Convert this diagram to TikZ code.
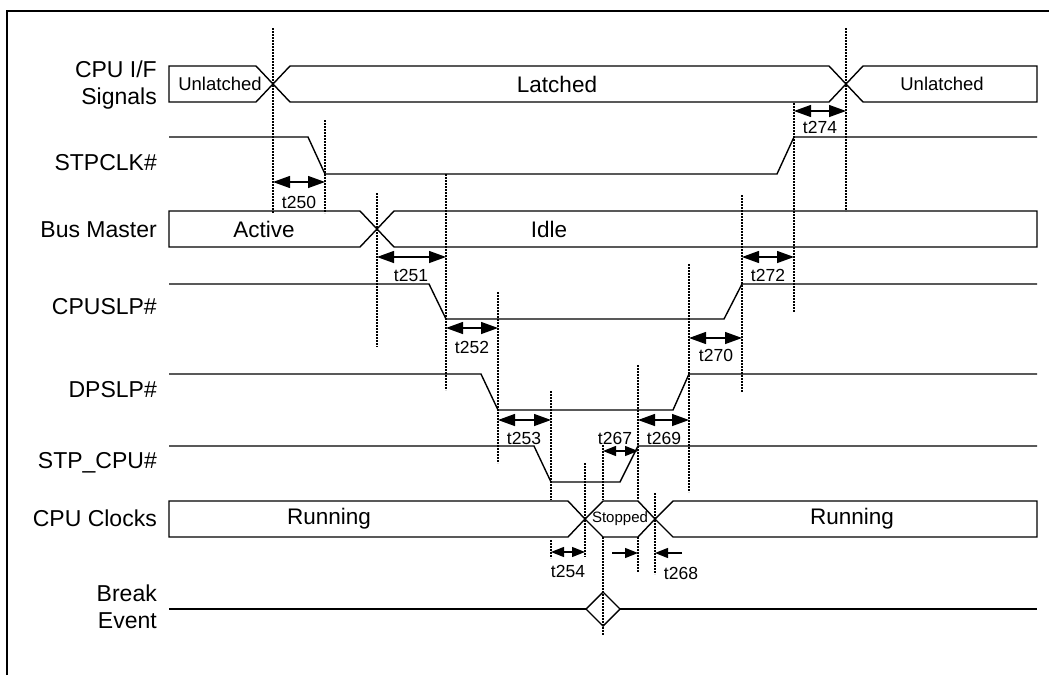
\documentclass[tikz,border=0pt]{standalone}
\usepackage{fontspec}
\setmainfont{Liberation Sans}
\usetikzlibrary{arrows.meta}

\begin{document}
\begin{tikzpicture}[x=1pt, y=-1pt,
    sig/.style={line width=1.4pt, line join=miter},
    guide/.style={line width=2pt, dash pattern=on 2pt off 1pt},
    tdim/.style={line width=1.3pt, {Triangle[length=17pt,width=12pt]}-{Triangle[length=17pt,width=12pt]}},
    tsmall/.style={line width=1.3pt, {Triangle[length=13pt,width=10pt]}-{Triangle[length=13pt,width=10pt]}},
    tone/.style={line width=1.3pt, -{Triangle[length=13pt,width=10pt]}},
    signame/.style={font=\fontsize{23}{27}\selectfont, anchor=east, align=right, inner sep=0pt},
    state/.style={font=\fontsize{22.5}{26}\selectfont, inner sep=0pt},
    tlab/.style={font=\fontsize{17.5}{20}\selectfont, inner sep=0pt}]
  \useasboundingbox (0,0) rectangle (1049,675);
  \draw[line width=2.8pt] (7,675) -- (7,11) -- (1049,11);

  % signal names
  \node[signame] (nIF)  at (157,85)  {CPU I/F\\Signals};
  \node[signame] (nSTP) at (157,163) {STPCLK\#};
  \node[signame] (nBM)  at (157,230) {Bus Master};
  \node[signame] (nCS)  at (157,307) {CPUSLP\#};
  \node[signame] (nDS)  at (157,390) {DPSLP\#};
  \node[signame] (nSC)  at (157,463) {STP\_CPU\#};
  \node[signame] (nCK)  at (157,518) {CPU Clocks};
  \node[signame] (nBE)  at (157,607) {Break\\Event};

  % CPU I/F signals
  \draw[sig] (169,66) -- (256,66) -- (273,84) -- (256,102) -- (169,102) -- cycle;
  \draw[sig] (273,84) -- (290,66) -- (829,66) -- (846,84) -- (829,102) -- (290,102) -- cycle;
  \draw[sig] (846,84) -- (863,66) -- (1037,66) -- (1037,102) -- (863,102) -- cycle;
  \node[state, font=\fontsize{18.5}{20}\selectfont] (sU1) at (220,84) {Unlatched};
  \node[state] (sL) at (557,84) {Latched};
  \node[state, font=\fontsize{18.5}{20}\selectfont] (sU2) at (942,84) {Unlatched};

  % STPCLK#
  \draw[sig] (169,137) -- (308,137) -- (325,174) -- (777,174) -- (794,137) -- (1037,137);

  % Bus Master
  \draw[sig] (169,211) -- (360,211) -- (377,229) -- (360,247) -- (169,247) -- cycle;
  \draw[sig] (377,229) -- (394,211) -- (1037,211) -- (1037,247) -- (394,247) -- cycle;
  \node[state] (sA) at (264,229) {Active};
  \node[state] (sI) at (549,229) {Idle};

  % CPUSLP#, DPSLP#, STP_CPU#
  \draw[sig] (169,284) -- (429,284) -- (446,319) -- (724,319) -- (742,284) -- (1037,284);
  \draw[sig] (169,374) -- (481,374) -- (498,410) -- (673,410) -- (689,374) -- (1037,374);
  \draw[sig] (169,446) -- (534,446) -- (551,482) -- (620,482) -- (638,446) -- (1037,446);

  % CPU Clocks
  \draw[sig] (169,501) -- (568,501) -- (585,519) -- (568,537) -- (169,537) -- cycle;
  \draw[sig] (585,519) -- (603,501) -- (638,501) -- (655,519) -- (638,537) -- (603,537) -- cycle;
  \draw[sig] (655,519) -- (673,501) -- (1037,501) -- (1037,537) -- (673,537) -- cycle;
  \node[state] (sR1) at (329,519) {Running};
  \node[state, font=\fontsize{15}{17}\selectfont] (sS) at (620,519) {Stopped};
  \node[state] (sR2) at (852,519) {Running};

  % Break Event
  \draw[sig] (169,609) -- (586,609);
  \draw[sig] (586,609) -- (603,592) -- (620,609) -- (603,626) -- cycle;
  \draw[sig] (620,609) -- (1037,609);

  % guide lines
  \draw[guide] (273,28) -- (273,213);
  \draw[guide] (325,120) -- (325,213);
  \draw[guide] (377,193) -- (377,347);
  \draw[guide] (446,174) -- (446,390);
  \draw[guide] (498,292) -- (498,463);
  \draw[guide] (551,391) -- (551,500) (551,540) -- (551,558);
  \draw[guide] (585,463) -- (585,557);
  \draw[guide] (603,445) -- (603,500) (603,537) -- (603,635);
  \draw[guide] (638,365) -- (638,500) (638,537) -- (638,572);
  \draw[guide] (655,493) -- (655,574);
  \draw[guide] (689,264) -- (689,492);
  \draw[guide] (742,195) -- (742,392);
  \draw[guide] (794,103) -- (794,312);
  \draw[guide] (846,28) -- (846,211);

  % timing
  \draw[tdim] (273,182) -- (325,182);
  \node[tlab] (t250) at (299,202) {t250};
  \draw[tdim] (377,257) -- (446,257);
  \node[tlab] (t251) at (411,275) {t251};
  \draw[tdim] (446,328) -- (498,328);
  \node[tlab] (t252) at (472,347) {t252};
  \draw[tdim] (498,420) -- (551,420);
  \node[tlab] (t253) at (524,438) {t253};
  \draw[tsmall] (551,552) -- (585,552);
  \node[tlab] (t254) at (568,571) {t254};
  \draw[tsmall] (603,451) -- (638,451);
  \node[tlab] (t267) at (615,438) {t267};
  \draw[tone] (612,553) -- (638,553);
  \draw[tone] (682,553) -- (655,553);
  \node[tlab] (t268) at (681,573) {t268};
  \draw[tdim] (638,420) -- (689,420);
  \node[tlab] (t269) at (664,438) {t269};
  \draw[tdim] (689,338) -- (742,338);
  \node[tlab] (t270) at (716,355) {t270};
  \draw[tdim] (742,257) -- (794,257);
  \node[tlab] (t272) at (768,275) {t272};
  \draw[tdim] (794,111) -- (846,111);
  \node[tlab] (t274) at (820,127) {t274};
\end{tikzpicture}
\end{document}
